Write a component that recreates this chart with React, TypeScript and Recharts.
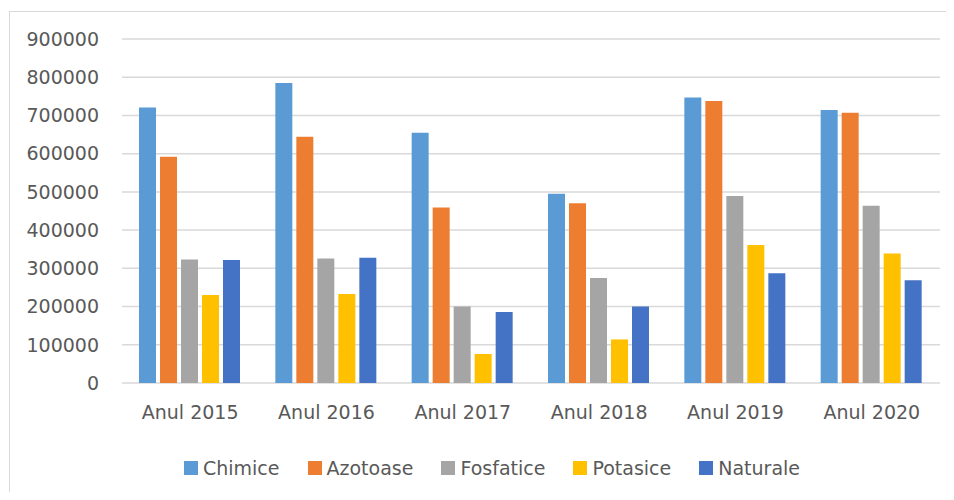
import { Bar, BarChart, CartesianGrid, Legend, XAxis, YAxis } from 'recharts'

const YEARS = ['Anul 2015', 'Anul 2016', 'Anul 2017', 'Anul 2018', 'Anul 2019', 'Anul 2020']
const CHIMICE = [721000, 785000, 655000, 495000, 747000, 714000]
const AZOTOASE = [592000, 644000, 459000, 470000, 738000, 707000]
const FOSFATICE = [323000, 326000, 200000, 275000, 489000, 464000]
const POTASICE = [230000, 233000, 76000, 114000, 361000, 339000]
const NATURALE = [322000, 328000, 186000, 200000, 287000, 269000]
const Y_TICKS = [0, 100000, 200000, 300000, 400000, 500000, 600000, 700000, 800000, 900000]

const SERIES = [
  { key: 'Chimice', values: CHIMICE, color: '#5b9bd5' },
  { key: 'Azotoase', values: AZOTOASE, color: '#ed7d31' },
  { key: 'Fosfatice', values: FOSFATICE, color: '#a5a5a5' },
  { key: 'Potasice', values: POTASICE, color: '#ffc000' },
  { key: 'Naturale', values: NATURALE, color: '#4472c4' },
]

const data = YEARS.map((year, i) => {
  const row: Record<string, string | number> = { year }
  SERIES.forEach((s) => {
    row[s.key] = s.values[i]
  })
  return row
})

const FONT = '"DejaVu Sans", sans-serif'
const TEXT_COLOR = '#595959'

function renderLegend() {
  return (
    <div style={{ display: 'flex', alignItems: 'center', height: 28, paddingLeft: 184, fontFamily: FONT, fontSize: 19, color: TEXT_COLOR }}>
      {SERIES.map((s) => (
        <div key={s.key} style={{ display: 'flex', alignItems: 'center', marginRight: 28 }}>
          <span style={{ display: 'inline-block', width: 14, height: 14, background: s.color, marginRight: 5 }} />
          <span>{s.key}</span>
        </div>
      ))}
    </div>
  )
}

export default function App() {
  return (
    <div style={{ position: 'relative', width: 954, height: 500, margin: -8, background: '#fff', overflow: 'hidden' }}>
      <div style={{ position: 'absolute', left: 9, top: 11, width: 942, height: 500, border: '1px solid #d9d9d9' }} />
      <div style={{ position: 'absolute', left: 0, top: 0 }}>
        <BarChart
          width={954}
          height={500}
          data={data}
          margin={{ top: 39, right: 14, left: 0, bottom: 49 }}
          barCategoryGap={17}
          barGap={4}
        >
          <CartesianGrid vertical={false} stroke="#d9d9d9" strokeWidth={1.5} />
          <XAxis
            dataKey="year"
            height={40}
            axisLine={false}
            tickLine={false}
            tickSize={0}
            tickMargin={23}
            tick={{ fill: TEXT_COLOR, fontSize: 19, fontFamily: FONT }}
          />
          <YAxis
            width={122}
            domain={[0, 900000]}
            ticks={Y_TICKS}
            axisLine={false}
            tickLine={false}
            tickSize={0}
            tickMargin={23}
            tick={{ fill: TEXT_COLOR, fontSize: 19, fontFamily: FONT }}
          />
          <Legend content={renderLegend} wrapperStyle={{ left: 0, top: 454, width: 954 }} />
          {SERIES.map((s) => (
            <Bar key={s.key} dataKey={s.key} fill={s.color} isAnimationActive={false} />
          ))}
        </BarChart>
      </div>
    </div>
  )
}
